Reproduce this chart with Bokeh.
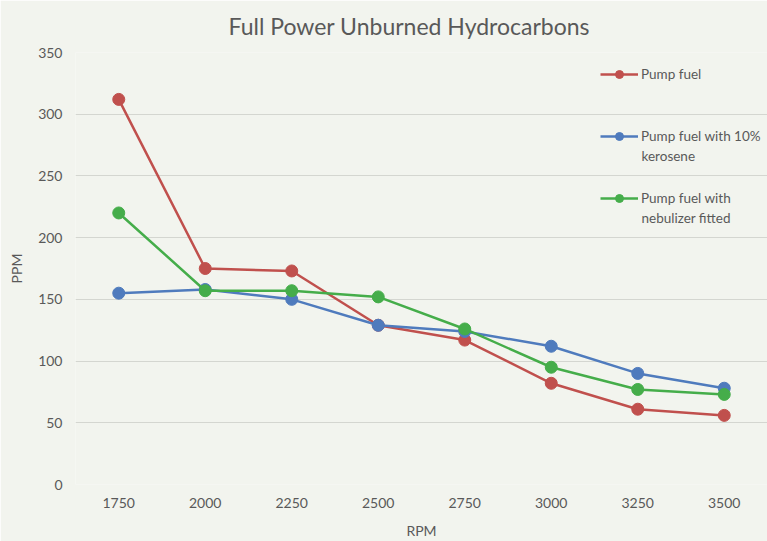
from bokeh.plotting import figure
from bokeh.models import Range1d, FixedTicker, Legend, LegendItem, Label
from bokeh.embed import file_html
from bokeh.resources import INLINE

rpm = [1750, 2000, 2250, 2500, 2750, 3000, 3250, 3500]
pump_fuel = [312, 175, 173, 129, 117, 82, 61, 56]
kerosene_10 = [155, 158, 150, 129, 124, 112, 90, 78]
nebulizer = [220, 157, 157, 152, 126, 95, 77, 73]
y_ticks = [0, 50, 100, 150, 200, 250, 300, 350]

series = [
    ("Pump fuel", pump_fuel, "#c0504d"),
    ("Pump fuel with 10%", kerosene_10, "#4f7bbd"),
    ("Pump fuel with", nebulizer, "#45ad4a"),
]

BG = "#f2f4ee"
FONT = "Lato"
TXT = "#595959"

p = figure(width=767, height=541, output_backend="svg", toolbar_location=None,
           x_range=Range1d(1625, 3625), y_range=Range1d(0, 350),
           title="Full Power Unburned Hydrocarbons",
           background_fill_color=BG, border_fill_color=BG,
           min_border_left=75, min_border_right=0, min_border_top=52, min_border_bottom=56)
p.outline_line_color = None

p.title.align = "left"
p.title.text_font = FONT
p.title.text_font_size = "23px"
p.title.text_font_style = "normal"
p.title.text_color = TXT
p.title.standoff = 22
p.title.offset = 153
p.title.vertical_align = "top"

p.xaxis.ticker = FixedTicker(ticks=rpm)
p.yaxis.ticker = FixedTicker(ticks=y_ticks)
for ax in (p.xaxis[0], p.yaxis[0]):
    ax.axis_line_color = None
    ax.major_tick_line_color = None
    ax.minor_tick_line_color = None
    ax.major_tick_out = 0
    ax.major_tick_in = 0
    ax.minor_tick_out = 0
    ax.minor_tick_in = 0
    ax.major_label_text_font = FONT
    ax.major_label_text_font_size = "14px"
    ax.major_label_text_color = TXT
    ax.axis_label_text_font = FONT
    ax.axis_label_text_font_size = "14px"
    ax.axis_label_text_font_style = "normal"
    ax.axis_label_text_color = TXT
p.xaxis.axis_label = "RPM"
p.yaxis.axis_label = "PPM"
p.xaxis.major_label_standoff = 13
p.xaxis.axis_label_standoff = 11
p.yaxis.major_label_standoff = 13
p.yaxis.axis_label_standoff = 10

p.xgrid.grid_line_color = None
p.ygrid.grid_line_color = "#d4d6d0"
p.ygrid.grid_line_width = 1

items = []
for name, vals, col in series:
    r1 = p.line(rpm, vals, line_color=col, line_width=2.5)
    r2 = p.scatter(rpm, vals, size=12, fill_color=col, line_color=col)
    items.append(LegendItem(label=name, renderers=[r1, r2]))

legend = Legend(items=items, location=(525, 276), padding=0, margin=0, spacing=42,
                glyph_width=38, glyph_height=20, label_height=20, label_standoff=3,
                border_line_color=None, background_fill_alpha=0,
                label_text_font=FONT, label_text_font_size="13.5px", label_text_color=TXT)
p.add_layout(legend)

for txt, yy in (("kerosene", 329), ("nebulizer fitted", 267)):
    p.add_layout(Label(x=566, y=yy, x_units="screen", y_units="screen", text=txt,
                       text_font=FONT, text_font_size="13.5px", text_color=TXT,
                       text_baseline="middle"))

open("out.html", "w").write(file_html(p, INLINE))
